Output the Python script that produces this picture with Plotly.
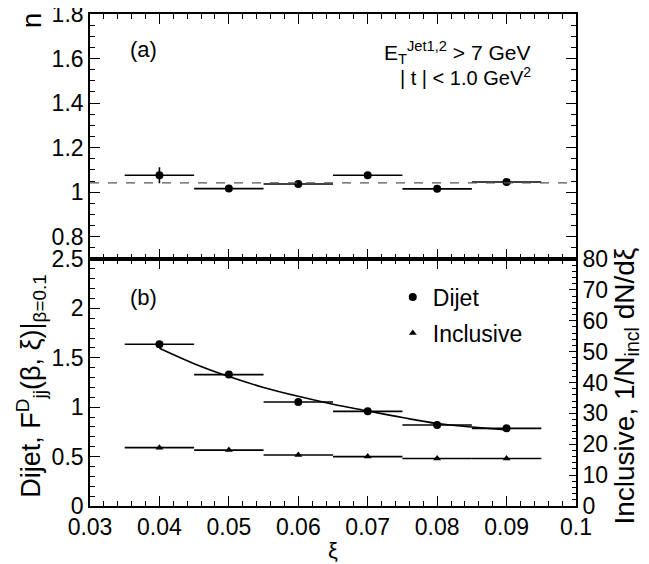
import plotly.graph_objects as go

# ---- data ----
xi = [0.04, 0.05, 0.06, 0.07, 0.08, 0.09]
bin_half = [0.005, 0.005, 0.005, 0.005, 0.005, 0.005]
n_vals = [1.076, 1.016, 1.037, 1.076, 1.015, 1.046]
n_err = [0.036, 0.012, 0.010, 0.010, 0.010, 0.008]
n_mean = 1.042
dijet_F = [1.637, 1.330, 1.053, 0.958, 0.820, 0.786]
dijet_err = [0.03, 0.02, 0.02, 0.02, 0.02, 0.02]
incl_vals = [18.9, 18.1, 16.5, 16.0, 15.4, 15.4]
fit_xi = [0.04, 0.045, 0.05, 0.055, 0.06, 0.065, 0.07, 0.075, 0.08, 0.085, 0.09]
fit_F = [1.596, 1.44, 1.31, 1.20, 1.11, 1.03, 0.962, 0.895, 0.835, 0.80, 0.77]

FONT = "Liberation Sans, Arial, Helvetica, sans-serif"
TICKF = dict(family=FONT, size=23, color="black")

fig = go.Figure()

# top panel: n
fig.add_trace(go.Scatter(
    x=xi, y=n_vals, mode="markers", xaxis="x2", yaxis="y2", showlegend=False,
    marker=dict(symbol="circle", size=8, color="black"),
    error_x=dict(type="data", array=bin_half, width=0, thickness=1.6, color="black"),
    error_y=dict(type="data", array=n_err, width=0, thickness=1.6, color="black"),
))

# bottom panel: dijet fit curve
fig.add_trace(go.Scatter(
    x=fit_xi, y=fit_F, mode="lines", xaxis="x", yaxis="y", showlegend=False,
    line=dict(color="black", width=1.6, shape="spline"),
))
# dijet points
fig.add_trace(go.Scatter(
    x=xi, y=dijet_F, mode="markers", xaxis="x", yaxis="y", name="Dijet",
    legend="legend",
    marker=dict(symbol="circle", size=8, color="black"),
    error_x=dict(type="data", array=bin_half, width=0, thickness=1.6, color="black"),
    error_y=dict(type="data", array=dijet_err, width=0, thickness=1.6, color="black"),
))
# inclusive points (right axis)
fig.add_trace(go.Scatter(
    x=xi, y=incl_vals, mode="markers", xaxis="x", yaxis="y3", name="Inclusive",
    legend="legend2",
    marker=dict(symbol="triangle-up", size=7, color="black"),
    error_x=dict(type="data", array=bin_half, width=0, thickness=1.6, color="black"),
))

split = 247 / 492

xcommon = dict(range=[0.03, 0.1], tick0=0.03, dtick=0.01, ticks="inside", ticklen=10,
               tickwidth=1.3, tickcolor="black", showline=True, linecolor="black",
               linewidth=1.6, mirror="ticks", showgrid=False, zeroline=False,
               automargin=False, ticklabeloverflow="allow",
               minor=dict(ticks="inside", dtick=0.002, tick0=0.03, ticklen=5, tickwidth=1.2,
                          tickcolor="black", showgrid=False))

fig.update_layout(
    width=641, height=556,
    margin=dict(l=82, r=73, t=6, b=58, autoexpand=False),
    paper_bgcolor="white", plot_bgcolor="white",
    font=dict(family=FONT, size=22, color="black"),
    xaxis=dict(**xcommon, anchor="y", tickfont=TICKF, ticklabelstandoff=0),
    xaxis2=dict(**xcommon, anchor="y2", matches="x", showticklabels=False),
    yaxis=dict(domain=[0, split], range=[0, 2.5], tick0=0, dtick=0.5,
               ticks="inside", ticklen=10, tickwidth=1.3, tickcolor="black",
               showline=True, linecolor="black", linewidth=1.6, showgrid=False,
               zeroline=False, tickfont=TICKF, ticklabelstandoff=0, automargin=False,
               ticklabeloverflow="allow",
               minor=dict(ticks="inside", dtick=0.1, tick0=0, ticklen=5, tickwidth=1.2,
                          tickcolor="black", showgrid=False)),
    yaxis2=dict(domain=[split, 1], range=[0.7, 1.80001], tick0=0.8, dtick=0.2,
                anchor="x2", ticks="inside", ticklen=10, tickwidth=1.3, tickcolor="black",
                showline=True, linecolor="black", linewidth=1.6, mirror="ticks",
                showgrid=False, zeroline=False, tickfont=TICKF, ticklabelstandoff=0,
                automargin=False, ticklabeloverflow="allow",
                minor=dict(ticks="inside", dtick=0.05, tick0=0.8, ticklen=5, tickwidth=1.2,
                           tickcolor="black", showgrid=False)),
    yaxis3=dict(overlaying="y", side="right", anchor="x", range=[0, 80], tick0=0, dtick=10,
                ticks="inside", ticklen=7, tickwidth=1.3, tickcolor="black",
                showline=True, linecolor="black", linewidth=1.6, showgrid=False,
                zeroline=False, tickfont=TICKF, ticklabelstandoff=0, automargin=False,
                ticklabeloverflow="allow",
                minor=dict(ticks="inside", dtick=2, tick0=0, ticklen=4, tickwidth=1.1,
                           tickcolor="black", showgrid=False)),
    legend=dict(x=0.623, y=0.4248, xanchor="left", yanchor="middle",
                bgcolor="rgba(0,0,0,0)", font=dict(family=FONT, size=23)),
    legend2=dict(x=0.623, y=0.3516, xanchor="left", yanchor="middle",
                 bgcolor="rgba(0,0,0,0)", font=dict(family=FONT, size=23)),
    shapes=[dict(type="line", xref="x2 domain", yref="y2", x0=0, x1=1,
                 y0=n_mean, y1=n_mean, line=dict(color="#555555", width=1.2, dash="dash"))],
)

ann = [
    dict(text="(a)", x=0.078, y=0.927, xanchor="left", yanchor="middle"),
    dict(text="(b)", x=0.078, y=0.4228, xanchor="left", yanchor="middle"),
    dict(text="E<sub>T</sub><sup>Jet1,2</sup> > 7 GeV", x=0.909, y=0.921,
         xanchor="right", yanchor="middle", font=dict(family=FONT, size=21)),
    dict(text="| t | < 1.0 GeV<sup>2</sup>", x=0.911, y=0.872,
         xanchor="right", yanchor="middle", font=dict(family=FONT, size=20)),
    dict(text="n", x=-0.121, y=1.008, xanchor="center", yanchor="top", textangle=-90,
         font=dict(family=FONT, size=28)),
    dict(text="Dijet, F<sup>D</sup><sub>jj</sub>(β, ξ)|<sub>β=0.1</sub>", x=-0.121, y=0.4736,
         xanchor="center", yanchor="top", textangle=-90, font=dict(family=FONT, size=27)),
    dict(text="Inclusive, 1/N<sub>incl</sub> dN/dξ", x=1.103, y=0.5285,
         xanchor="center", yanchor="top", textangle=-90, font=dict(family=FONT, size=28)),
    dict(text="ξ", x=0.5, y=-0.09, xanchor="center", yanchor="middle",
         font=dict(family=FONT, size=22)),
]
for a in ann:
    a.setdefault("font", dict(family=FONT, size=22))
    fig.add_annotation(xref="paper", yref="paper", showarrow=False, **a)

fig.write_html("out.html")
